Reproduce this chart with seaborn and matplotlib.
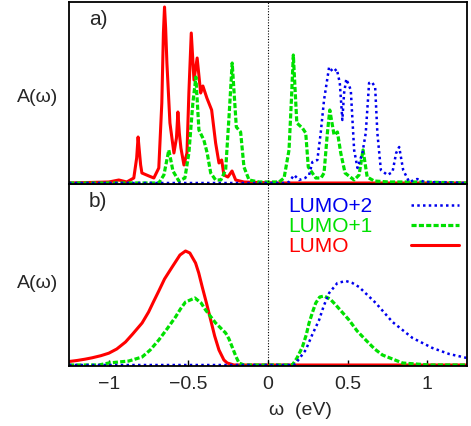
import matplotlib
matplotlib.use("Agg")
import matplotlib.pyplot as plt
from matplotlib.lines import Line2D
import seaborn as sns
import pandas as pd

# ---------------- data ----------------
# panel a) -- sharp spectra
a_lumo_x = [-1.25, -1.0, -0.937, -0.887, -0.843, -0.825, -0.816, -0.807, -0.80, -0.792, -0.748,
            -0.717, -0.686, -0.667, -0.657, -0.650, -0.643, -0.635, -0.616, -0.591, -0.575,
            -0.566, -0.557, -0.547, -0.528, -0.509, -0.497, -0.482, -0.465, -0.445, -0.423,
            -0.409, -0.384, -0.354, -0.329, -0.308, -0.291, -0.277, -0.252, -0.226, -0.203,
            -0.151, -0.057, 0.07, 1.25]
a_lumo_y = [0.0, 0.01, 0.03, 0.01, 0.05, 0.25, 0.46, 0.30, 0.18, 0.10, 0.07,
            0.05, 0.15, 0.80, 1.50, 1.76, 1.55, 1.20, 0.60, 0.30, 0.45,
            0.71, 0.50, 0.35, 0.18, 0.30, 0.90, 1.50, 1.03, 1.25, 0.90,
            0.97, 0.85, 0.73, 0.40, 0.20, 0.23, 0.08, 0.06, 0.12, 0.03,
            0.01, 0.005, 0.0, 0.0]

a_lumo1_x = [-1.25, -0.686, -0.654, -0.623, -0.597, -0.560, -0.522, -0.497, -0.472, -0.453,
             -0.434, -0.403, -0.382, -0.360, -0.329, -0.296, -0.266, -0.245, -0.225, -0.199,
             -0.172, -0.151, -0.119, -0.057, 0.069, 0.101, 0.132, 0.147, 0.159, 0.181,
             0.216, 0.237, 0.253, 0.300, 0.333, 0.352, 0.373, 0.388, 0.415, 0.436,
             0.457, 0.484, 0.541, 0.572, 0.597, 0.623, 0.667, 0.761, 0.950, 1.25]
a_lumo1_y = [0.0, 0.0, 0.08, 0.33, 0.12, 0.02, 0.05, 0.30, 0.80, 1.06,
             0.53, 0.43, 0.30, 0.10, 0.03, 0.03, 0.13, 0.66, 1.20, 0.56,
             0.51, 0.16, 0.03, 0.01, 0.01, 0.05, 0.33, 0.83, 1.28, 0.60,
             0.55, 0.50, 0.16, 0.05, 0.05, 0.10, 0.50, 0.73, 0.48, 0.51,
             0.30, 0.10, 0.03, 0.08, 0.33, 0.06, 0.02, 0.01, 0.01, 0.0]

a_lumo2_x = [-1.25, 0.10, 0.132, 0.164, 0.195, 0.233, 0.258, 0.279, 0.310, 0.331,
             0.352, 0.384, 0.409, 0.432, 0.451, 0.467, 0.478, 0.492, 0.520, 0.541,
             0.562, 0.593, 0.614, 0.635, 0.652, 0.673, 0.687, 0.709, 0.750, 0.782,
             0.805, 0.824, 0.849, 0.887, 0.937, 0.981, 1.25]
a_lumo2_y = [0.0, 0.0, 0.01, 0.08, 0.03, 0.05, 0.08, 0.21, 0.23, 0.50,
             0.83, 1.16, 1.11, 1.14, 1.00, 0.63, 0.90, 1.04, 0.93, 0.33,
             0.15, 0.30, 0.50, 1.00, 1.01, 0.96, 0.50, 0.13, 0.08, 0.11,
             0.30, 0.36, 0.13, 0.01, 0.04, 0.01, 0.0]

# panel b) -- broadened spectra
b_lumo_x = [-1.25, -1.2, -1.15, -1.105, -1.05, -1.0, -0.95, -0.895, -0.85, -0.791,
            -0.75, -0.72, -0.686, -0.65, -0.602, -0.553, -0.518, -0.491, -0.455, -0.435,
            -0.413, -0.385, -0.360, -0.335, -0.308, -0.277, -0.256, -0.214, 1.25]
b_lumo_y = [0.035, 0.045, 0.058, 0.072, 0.093, 0.118, 0.16, 0.23, 0.31, 0.42,
            0.53, 0.63, 0.74, 0.86, 0.98, 1.10, 1.14, 1.12, 1.02, 0.92,
            0.78, 0.61, 0.45, 0.29, 0.15, 0.05, 0.02, 0.0, 0.0]

b_lumo1_x = [-1.25, -1.063, -1.0, -0.874, -0.791, -0.74, -0.686, -0.63, -0.581, -0.55,
             -0.518, -0.459, -0.42, -0.392, -0.329, -0.266, -0.245, -0.225, -0.20, -0.182,
             -0.151, 0.153, 0.182, 0.216, 0.24, 0.258, 0.280, 0.300, 0.325, 0.352,
             0.39, 0.426, 0.509, 0.56, 0.614, 0.67, 0.719, 0.845, 1.013, 1.25]
b_lumo1_y = [0.0, 0.0, 0.02, 0.04, 0.08, 0.15, 0.25, 0.37, 0.48, 0.56,
             0.63, 0.67, 0.62, 0.55, 0.42, 0.32, 0.26, 0.18, 0.08, 0.02,
             0.0, 0.0, 0.07, 0.18, 0.30, 0.42, 0.53, 0.62, 0.68, 0.69,
             0.66, 0.60, 0.45, 0.34, 0.25, 0.16, 0.10, 0.02, 0.0, 0.0]

b_lumo2_x = [-1.25, 0.164, 0.195, 0.237, 0.277, 0.321, 0.35, 0.384, 0.436, 0.489,
             0.53, 0.572, 0.677, 0.782, 0.908, 1.033, 1.138, 1.25]
b_lumo2_y = [0.0, 0.0, 0.06, 0.15, 0.30, 0.45, 0.59, 0.72, 0.82, 0.84,
             0.82, 0.78, 0.62, 0.43, 0.27, 0.17, 0.11, 0.07]

series_names = ["LUMO+2", "LUMO+1", "LUMO"]
xticks = [-1, -0.5, 0, 0.5, 1]
xtick_labels = ["\u22121", "\u22120.5", "0", "0.5", "1"]

# ---------------- style ----------------
sns.set_theme(style="white")
plt.rcParams["font.family"] = ["Liberation Sans", "DejaVu Sans"]

RED = "#ff0000"
GREEN = "#00e000"
BLUE = "#0000ee"
styles = {
    "LUMO": dict(color=RED, lw=2.2, ls="-"),
    "LUMO+1": dict(color=GREEN, lw=2.3, ls=(0, (1.6, 0.7))),
    "LUMO+2": dict(color=BLUE, lw=1.8, ls=(0, (1.0, 1.3))),
}

fig = plt.figure(figsize=(4.71, 4.26), dpi=100)
W, H = 471, 426
left = 69 / W
width = (467 - 69) / W
ph = 182 / H
ax_b = fig.add_axes([left, 1 - 366 / H, width, ph])
ax_a = fig.add_axes([left, 1 - 366 / H + ph, width, ph])

panels = [
    (ax_a, {"LUMO": (a_lumo_x, a_lumo_y), "LUMO+1": (a_lumo1_x, a_lumo1_y), "LUMO+2": (a_lumo2_x, a_lumo2_y)}, "a)"),
    (ax_b, {"LUMO": (b_lumo_x, b_lumo_y), "LUMO+1": (b_lumo1_x, b_lumo1_y), "LUMO+2": (b_lumo2_x, b_lumo2_y)}, "b)"),
]

for ax, curves, tag in panels:
    for name in ["LUMO", "LUMO+1", "LUMO+2"]:
        xs, ys = curves[name]
        df = pd.DataFrame({"w": xs, "A": ys})
        st = styles[name]
        sns.lineplot(data=df, x="w", y="A", ax=ax, color=st["color"], linewidth=st["lw"],
                     linestyle=st["ls"], estimator=None, sort=False, legend=False)
    ax.axvline(0, color="black", lw=0.8, ls=(0, (1, 1.5)))
    ax.set_xlim(-1.25, 1.25)
    ax.set_ylim(-0.01, 1.81)
    ax.set_yticks([])
    ax.set_xticks(xticks)
    ax.set_ylabel("A(\u03c9)", rotation=0, fontsize=14, ha="center", va="center")
    for s in ax.spines.values():
        s.set_color("black")
        s.set_linewidth(1.3)
    ax.text(0.05, 0.955, tag, transform=ax.transAxes, fontsize=15, ha="left", va="top")

ax_a.yaxis.set_label_coords(-31 / 398, 0.478)
ax_b.yaxis.set_label_coords(-31 / 398, 0.456)

ax_a.tick_params(axis="x", bottom=False, labelbottom=False)
ax_a.set_xlabel("")
ax_b.tick_params(axis="x", direction="in", length=4, width=1, color="black",
                 labelsize=14, pad=7, bottom=True, top=False)
ax_b.set_xticklabels(xtick_labels)
ax_b.set_xlabel("\u03c9  (eV)", fontsize=14)
ax_b.xaxis.set_label_coords((300 - 69) / 398, -(36 / 182))

# legend: coloured text on the left, line samples on the right
order = ["LUMO+2", "LUMO+1", "LUMO"]
blank = [Line2D([], [], color="none") for _ in order]
anchor_y = (366 - 197) / 182
leg_txt = ax_b.legend(blank, order, loc="upper left", bbox_to_anchor=((288 - 69) / 398, anchor_y),
                      frameon=False, fontsize=15, handlelength=0, handletextpad=0,
                      borderpad=0, borderaxespad=0, labelspacing=0.05,
                      labelcolor=[styles[n]["color"] for n in order])
ax_b.add_artist(leg_txt)
samples = [Line2D([], [], color=styles[n]["color"], lw=styles[n]["lw"], ls=styles[n]["ls"]) for n in order]
ax_b.legend(samples, ["", "", ""], loc="upper left", bbox_to_anchor=((411 - 69) / 398, anchor_y),
            frameon=False, fontsize=15, handlelength=2.3, handletextpad=0,
            borderpad=0, borderaxespad=0, labelspacing=0.05)

fig.savefig("out.png", dpi=100)
